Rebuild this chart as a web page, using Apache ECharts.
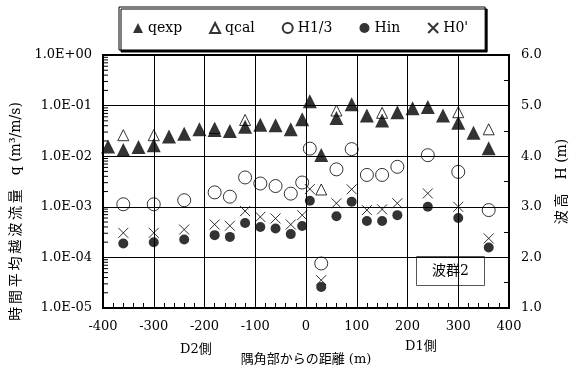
<!DOCTYPE html>
<html>
<head>
<meta charset="utf-8">
<script src="https://cdn.jsdelivr.net/npm/echarts@6/dist/echarts.min.js"></script>
<style>
  html, body { margin: 0; padding: 0; background: #fff; }
  #chart { width: 577px; height: 371px; }
</style>
</head>
<body>
<div id="chart"></div>
<script>
// 越波流量 q (m3/m/s) 左軸
var xQexp = [-390, -360, -330, -300, -270, -240, -210, -180, -150, -120, -90, -60, -30, -7.5, 7.5, 30, 60, 90, 120, 150, 180, 210, 240, 270, 300, 330, 360];
var qexp = [0.0155, 0.0132, 0.0152, 0.0165, 0.0245, 0.0279, 0.034, 0.033, 0.0316, 0.038, 0.042, 0.041, 0.034, 0.054, 0.122, 0.0106, 0.057, 0.106, 0.064, 0.051, 0.074, 0.089, 0.094, 0.064, 0.046, 0.029, 0.0143];
var xQcal = [-360, -300, -180, -120, 30, 60, 150, 300, 360];
var qcal = [0.026, 0.026, 0.036, 0.052, 0.0022, 0.080, 0.072, 0.074, 0.034];

// 波高 H (m) 右軸
var xH = [-360, -300, -240, -180, -150, -120, -90, -60, -30, -7.5, 7.5, 30, 60, 90, 120, 150, 180, 240, 300, 360];
var h13 = [3.05, 3.05, 3.13, 3.285, 3.20, 3.58, 3.46, 3.41, 3.26, 3.48, 4.15, 1.88, 3.74, 4.14, 3.63, 3.63, 3.79, 4.02, 3.69, 2.935];
var hin = [2.275, 2.30, 2.355, 2.44, 2.405, 2.68, 2.60, 2.57, 2.46, 2.62, 3.12, 1.415, 2.815, 3.10, 2.72, 2.72, 2.835, 3.0, 2.78, 2.195];
var h0 = [2.485, 2.485, 2.55, 2.65, 2.625, 2.915, 2.80, 2.77, 2.65, 2.835, 3.35, 1.55, 3.07, 3.345, 2.935, 2.95, 3.07, 3.265, 3.0, 2.375];

var names = ['qexp', 'qcal', 'H1/3', 'Hin', "H0'"];

var serif = "'DejaVu Serif', 'Noto Sans CJK JP'";
var cross = 'path://M0,0L10,10M10,0L0,10';

function pair(xs, ys) {
    var out = [];
    for (var i = 0; i < xs.length; i++) {
        out.push([xs[i], ys[i]]);
    }
    return out;
}

// 対数軸の小目盛 (2..9 x 10^k)
var minorVals = [];
for (var k = -5; k < 0; k++) {
    for (var m = 2; m <= 9; m++) {
        minorVals.push([-400, m * Math.pow(10, k)]);
    }
}

function expLabel(v) {
    var e = Math.round(Math.log10(v));
    var a = Math.abs(e);
    return '1.0E' + (e < 0 ? '-' : '+') + (a < 10 ? '0' : '') + a;
}

var chart = echarts.init(document.getElementById('chart'));

var option = {
    animation: false,
    backgroundColor: '#fff',
    textStyle: { fontFamily: serif, color: '#000' },
    legend: {
        data: names,
        left: 119,
        top: 7,
        padding: [14, 17, 15, 14],
        itemGap: 27,
        itemWidth: 10,
        itemHeight: 10,
        borderColor: '#000',
        borderWidth: 1,
        backgroundColor: '#fff',
        shadowColor: '#000',
        shadowOffsetX: 2,
        shadowOffsetY: 2,
        shadowBlur: 0,
        textStyle: { fontFamily: serif, fontSize: 14, color: '#000' }
    },
    grid: {
        left: 103,
        right: 65,
        top: 55,
        bottom: 63,
        show: true,
        borderColor: '#000',
        borderWidth: 2
    },
    xAxis: {
        type: 'value',
        min: -400,
        max: 400,
        interval: 100,
        name: '隅角部からの距離 (m)',
        nameLocation: 'middle',
        nameGap: 45,
        nameTextStyle: { fontFamily: serif, fontSize: 13, color: '#000' },
        axisLine: { show: true, onZero: false, lineStyle: { color: '#000', width: 2 } },
        axisTick: { show: true, inside: true, length: 5, lineStyle: { color: '#000' } },
        minorTick: { show: true, splitNumber: 5, length: 5, lineStyle: { color: '#000' } },
        axisLabel: { fontFamily: serif, fontSize: 13, color: '#000', margin: 12 },
        splitLine: { show: true, lineStyle: { color: '#000', width: 1 } }
    },
    yAxis: [
        {
            type: 'log',
            logBase: 10,
            min: 1e-5,
            max: 1,
            splitNumber: 5,
            name: '時\u2009間\u2009平\u2009均\u2009越\u2009波\u2009流\u2009量\u2003q (m³/m/s)',
            nameLocation: 'middle',
            nameRotate: 90,
            nameGap: 78,
            nameTextStyle: { fontFamily: serif, fontSize: 14, color: '#000', padding: [0, 60, 0, 0] },
            axisLine: { show: true, onZero: false, lineStyle: { color: '#000', width: 2 } },
            axisTick: { show: true, inside: true, length: 6, lineStyle: { color: '#000' } },
            axisLabel: { fontFamily: serif, fontSize: 13, color: '#000', margin: 11, formatter: expLabel },
            splitLine: { show: true, lineStyle: { color: '#000', width: 1 } }
        },
        {
            type: 'value',
            position: 'right',
            min: 1,
            max: 6,
            interval: 1,
            name: '波\u2009高\u2003H (m)',
            nameLocation: 'middle',
            nameRotate: 90,
            nameGap: 46,
            nameTextStyle: { fontFamily: serif, fontSize: 14, color: '#000' },
            axisLine: { show: true, onZero: false, lineStyle: { color: '#000', width: 2 } },
            axisTick: { show: true, inside: true, length: 5, lineStyle: { color: '#000' } },
            minorTick: { show: true, splitNumber: 2, length: 5, lineStyle: { color: '#000' } },
            axisLabel: {
                fontFamily: serif, fontSize: 13, color: '#000', margin: 12,
                formatter: function (v) { return v.toFixed(1); }
            },
            splitLine: { show: false }
        }
    ],
    graphic: [
        { type: 'text', left: 180, top: 343, style: { text: 'D2側', font: '13px ' + serif, fill: '#000' } },
        { type: 'text', left: 405, top: 340, style: { text: 'D1側', font: '13px ' + serif, fill: '#000' } },
        {
            type: 'group',
            left: 416,
            top: 256,
            children: [
                { type: 'rect', shape: { x: 0, y: 0, width: 68, height: 29 }, style: { fill: '#fff', stroke: '#555', lineWidth: 1 } },
                { type: 'text', x: 34, y: 15, style: { text: '波群2', font: '14px ' + serif, fill: '#000', align: 'center', verticalAlign: 'middle' } }
            ]
        }
    ],
    series: [
        {
            type: 'custom',
            silent: true,
            xAxisIndex: 0,
            yAxisIndex: 0,
            data: minorVals,
            renderItem: function (params, api) {
                var p = api.coord([api.value(0), api.value(1)]);
                return {
                    type: 'line',
                    shape: { x1: p[0], y1: p[1], x2: p[0] + 5, y2: p[1] },
                    style: { stroke: '#000', lineWidth: 1 }
                };
            }
        },
        {
            name: 'qexp', type: 'scatter', yAxisIndex: 0,
            symbol: 'triangle', symbolSize: 14,
            itemStyle: { color: '#000' },
            data: pair(xQexp, qexp)
        },
        {
            name: 'qcal', type: 'scatter', yAxisIndex: 0,
            symbol: 'triangle', symbolSize: 11,
            itemStyle: { color: 'rgba(255,255,255,0)', borderColor: '#000', borderWidth: 1 },
            data: pair(xQcal, qcal)
        },
        {
            name: 'H1/3', type: 'scatter', yAxisIndex: 1,
            symbol: 'circle', symbolSize: 13,
            itemStyle: { color: 'rgba(255,255,255,0)', borderColor: '#000', borderWidth: 1 },
            data: pair(xH, h13)
        },
        {
            name: 'Hin', type: 'scatter', yAxisIndex: 1,
            symbol: 'circle', symbolSize: 10,
            itemStyle: { color: '#000' },
            data: pair(xH, hin)
        },
        {
            name: "H0'", type: 'scatter', yAxisIndex: 1,
            symbol: cross, symbolSize: 10,
            itemStyle: { color: '#000', borderColor: '#000', borderWidth: 1 },
            data: pair(xH, h0)
        }
    ]
};

chart.setOption(option);
</script>
</body>
</html>
